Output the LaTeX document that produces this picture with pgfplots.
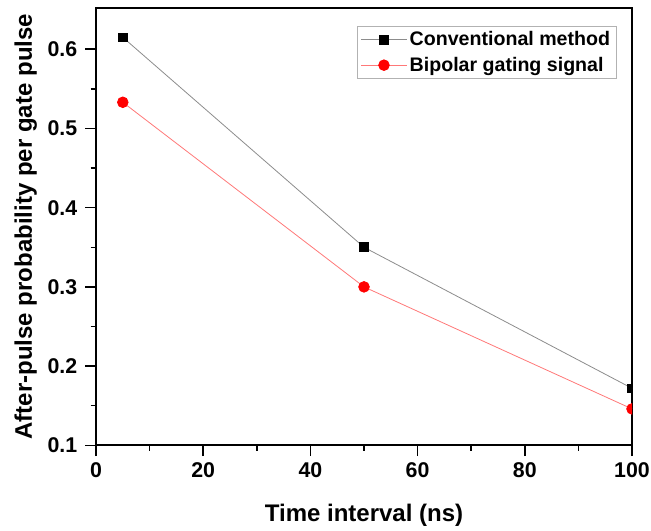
\documentclass[border=0pt]{standalone}
\usepackage{fontspec}
\setmainfont{Liberation Sans}
\usepackage{pgfplots}
\pgfplotsset{compat=1.18}
\definecolor{lineblack}{RGB}{140,140,140}
\definecolor{linered}{RGB}{255,120,120}

\begin{document}
\begin{tikzpicture}
\begin{axis}[
  scale only axis,
  width=402pt, height=328pt,
  xmin=0, xmax=100, ymin=0.1, ymax=0.652,
  xtick={0,20,...,100},
  ytick={0.1,0.2,...,0.6},
  minor x tick num=1, minor y tick num=1,
  tick align=outside,
  xtick pos=left, ytick pos=left,
  major tick length=8pt, minor tick length=4pt,
  every tick/.style={black, line width=1.1pt},
  axis line style={line width=1.3pt},
  clip marker paths=true,
  /pgf/number format/assume math mode=true,
  /pgf/number format/fixed,
  /pgf/number format/precision=1,
  yticklabel style={/pgf/number format/fixed zerofill, xshift=-2.5pt},
  xticklabel style={yshift=-1.5pt},
  ticklabel style={font=\fontsize{16}{18}\selectfont\bfseries},
  xlabel={Time interval (ns)},
  ylabel={After-pulse probability per gate pulse},
  label style={font=\fontsize{18}{20}\selectfont\bfseries},
  xlabel style={at={(axis description cs:0.5,-0.1738)}, anchor=base},
  ylabel style={at={(axis description cs:-0.1194,0.5)}, anchor=base},
  legend style={at={(0.972,0.959)}, anchor=north east, draw=gray!60,
    font=\fontsize{14.7}{16}\selectfont\bfseries, row sep=3pt,
    inner xsep=3pt, inner ysep=2pt},
  legend cell align=left,
  legend image code/.code={
    \draw[mark repeat=2, mark phase=2] plot coordinates {(0pt,0pt) (17pt,0pt) (34pt,0pt)};
  },
]
\addplot[lineblack, line width=0.6pt, mark=square*, mark size=3.3pt,
  mark options={black, fill=black}] coordinates {
  (5,0.615) (50,0.350) (100,0.172)
};
\addlegendentry{Conventional method}
\addplot[linered, line width=0.6pt, mark=*, mark size=4pt,
  mark options={red, fill=red}] coordinates {
  (5,0.533) (50,0.300) (100,0.146)
};
\addlegendentry{Bipolar gating signal}
\end{axis}
\pgfresetboundingbox
\path[use as bounding box] ([xshift=-72pt,yshift=-63.75pt]current axis.south west)
  rectangle ([xshift=14.25pt,yshift=6pt]current axis.north east);
\end{tikzpicture}
\end{document}
